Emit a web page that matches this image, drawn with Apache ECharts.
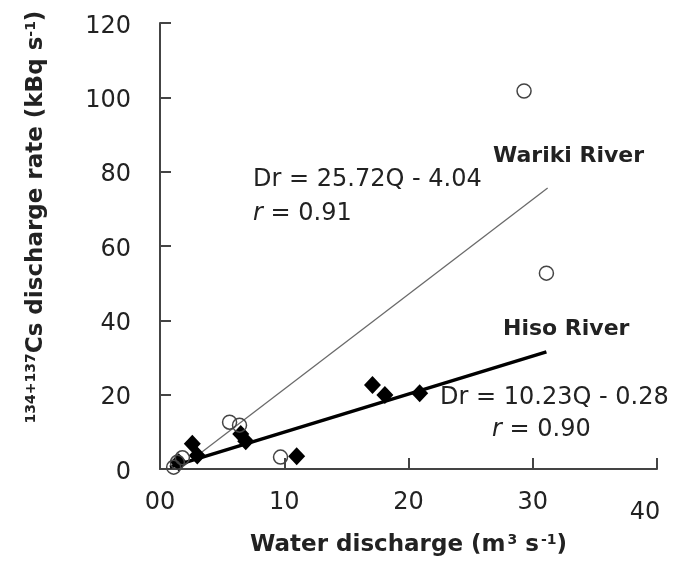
<!DOCTYPE html>
<html>
<head>
<meta charset="utf-8">
<script src="https://cdn.jsdelivr.net/npm/echarts@6/dist/echarts.min.js"></script>
<style>
  html, body { margin: 0; padding: 0; background: #fff; }
  #chart { width: 684px; height: 574px; }
</style>
</head>
<body>
<div id="chart"></div>
<script>
// values
var xTickLabels = ['00', '10', '20', '30', '40'];
var yTicks = [0, 20, 40, 60, 80, 100, 120];

// Wariki River (open circles)
var warikiPoints = [
  [1.1, 0.5], [1.4, 1.8], [1.8, 3.0], [5.6, 12.6], [6.4, 11.8],
  [9.7, 3.2], [29.3, 101.7], [31.1, 52.7]
];
// Hiso River (filled diamonds)
var hisoPoints = [
  [1.5, 1.8], [2.6, 6.8], [3.0, 3.6], [6.5, 9.4], [6.9, 7.5],
  [11.0, 3.4], [17.1, 22.6], [18.1, 19.9], [20.9, 20.4]
];
// fitted lines, ends as drawn
var warikiFit = [[1.9, 0.8], [31.2, 75.6]];
var hisoFit = [[0.8, 0.5], [31.1, 31.5]];

var font = 'DejaVu Sans';
var ink = '#222';

var chart = echarts.init(document.getElementById('chart'));

var option = {
  animation: false,
  textStyle: { fontFamily: font, color: ink },
  grid: { left: 160, right: 27, top: 23, bottom: 105 },
  xAxis: {
    type: 'value',
    min: 0, max: 40, interval: 10,
    splitLine: { show: false },
    axisLine: { lineStyle: { color: '#444', width: 2 } },
    axisTick: { inside: true, length: 11, lineStyle: { color: '#444', width: 2 } },
    axisLabel: {
      margin: 22,
      fontSize: 24, color: ink, fontFamily: font,
      formatter: function (v) {
        var s = xTickLabels[Math.round(v / 10)];
        return v === 40 ? '{l|' + s + '}' : s;
      },
      rich: { l: { fontSize: 24, color: ink, fontFamily: font, padding: [10, 24, 0, 0] } }
    },
    name: '{b|Water discharge (m}{s|3}{b| s}{s|-1}{b|)}',
    nameLocation: 'middle',
    nameGap: 64,
    nameTextStyle: {
      rich: {
        b: { fontSize: 23, fontWeight: 'bold', color: ink, fontFamily: font },
        s: { fontSize: 14, fontWeight: 'bold', color: ink, fontFamily: font, verticalAlign: 'top', padding: [0, 0, 10, 2] }
      }
    }
  },
  yAxis: {
    type: 'value',
    min: 0, max: 120, interval: 20,
    splitLine: { show: false },
    axisLine: { lineStyle: { color: '#444', width: 2 } },
    axisTick: { inside: true, length: 11, lineStyle: { color: '#444', width: 2 } },
    axisLabel: {
      margin: 29, color: ink, fontFamily: font,
      formatter: '{v|{value}}',
      rich: { v: { fontSize: 24, color: ink, fontFamily: font, padding: [7, 0, 0, 0] } }
    },
    name: '{s|134+137}{b|Cs discharge rate (kBq s}{s|-1}{b|)}',
    nameLocation: 'middle',
    nameGap: 112,
    nameTextStyle: {
      padding: [0, 0, 0, 58],
      rich: {
        b: { fontSize: 23, fontWeight: 'bold', color: ink, fontFamily: font },
        s: { fontSize: 14, fontWeight: 'bold', color: ink, fontFamily: font, verticalAlign: 'top', padding: [0, 0, 10, 0] }
      }
    }
  },
  series: [
    {
      name: 'Wariki fit', type: 'line', data: warikiFit,
      symbol: 'none', lineStyle: { color: '#6a6a6a', width: 1.3 }, z: 2
    },
    {
      name: 'Hiso fit', type: 'line', data: hisoFit,
      symbol: 'none', lineStyle: { color: '#000', width: 3.5 }, z: 2
    },
    {
      name: 'Hiso River', type: 'scatter', data: hisoPoints,
      symbol: 'diamond', symbolSize: [17, 18],
      itemStyle: { color: '#000', opacity: 1 }, z: 3
    },
    {
      name: 'Wariki River', type: 'scatter', data: warikiPoints,
      symbol: 'circle', symbolSize: 14,
      itemStyle: { color: 'rgba(255,255,255,0)', borderColor: '#444', borderWidth: 1.5, opacity: 1 }, z: 4
    }
  ],
  graphic: [
    { type: 'text', left: 253, top: 168, style: { text: 'Dr = 25.72Q - 4.04', font: '24px "DejaVu Sans"', fill: ink } },
    { type: 'text', left: 253, top: 202, style: {
        text: '{i|r} = 0.91', font: '24px "DejaVu Sans"', fill: ink,
        rich: { i: { fontStyle: 'italic', fontSize: 24, fontFamily: font, color: ink } } } },
    { type: 'text', left: 493, top: 145, style: { text: 'Wariki River', font: 'bold 22px "DejaVu Sans"', fill: ink } },
    { type: 'text', left: 503, top: 318, style: { text: 'Hiso River', font: 'bold 22px "DejaVu Sans"', fill: ink } },
    { type: 'text', left: 440, top: 386, style: { text: 'Dr = 10.23Q - 0.28', font: '24px "DejaVu Sans"', fill: ink } },
    { type: 'text', left: 492, top: 418, style: {
        text: '{i|r} = 0.90', font: '24px "DejaVu Sans"', fill: ink,
        rich: { i: { fontStyle: 'italic', fontSize: 24, fontFamily: font, color: ink } } } }
  ]
};

chart.setOption(option);
</script>
</body>
</html>
